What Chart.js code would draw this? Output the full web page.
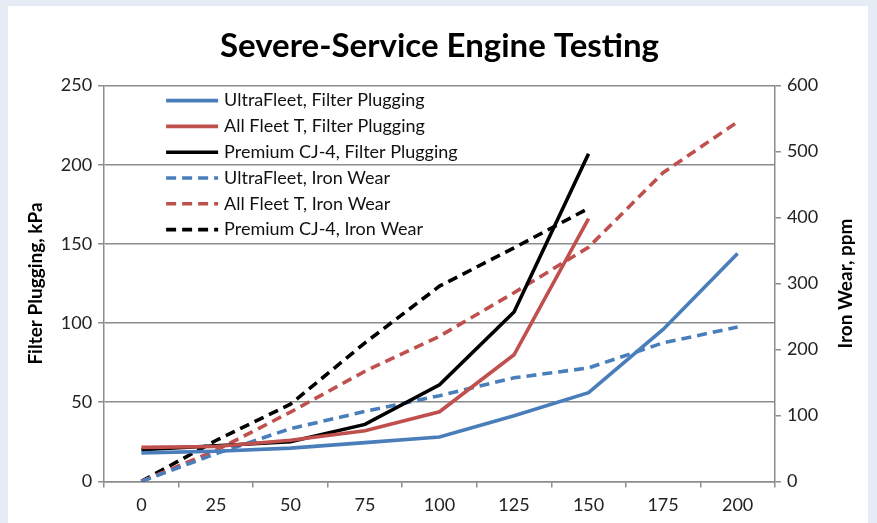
<!DOCTYPE html>
<html>
<head>
<meta charset="utf-8">
<script src="https://cdn.jsdelivr.net/npm/chart.js@4/dist/chart.umd.min.js"></script>
<style>
  html, body { margin: 0; padding: 0; background: #ffffff; }
  #wrap { width: 877px; height: 523px; position: relative; }
  canvas { display: block; }
</style>
</head>
<body>
<div id="wrap"><canvas id="c" width="877" height="523"></canvas></div>
<script>
// Data
const categories = ['0', '25', '50', '75', '100', '125', '150', '175', '200'];
const ultraFleetPlugging = [18, 19, 21, 24.5, 28, 41.5, 56, 96, 144];
const allFleetPlugging   = [21.5, 22, 26, 32, 44, 80, 166];
const premiumPlugging    = [20, 22.5, 25, 36, 61, 107, 207];
const ultraFleetIron     = [0, 42, 80, 106, 130, 157, 172, 210, 234];
const allFleetIron       = [0, 47, 105, 167, 220, 286, 355, 468, 545];
const premiumIron        = [0, 62, 117, 210, 296, 354, 414];
const leftTicks  = [0, 50, 100, 150, 200, 250];
const rightTicks = [0, 100, 200, 300, 400, 500, 600];
const rightTitle = 'Iron Wear, ppm';

const BLUE = '#4A7EBB', RED = '#C0504D', BLACK = '#000000';
const FONT = 'Lato, "Open Sans", sans-serif';

const solid = (label, data, color) => ({
  label, data, borderColor: color, backgroundColor: color, borderWidth: 3.6,
  pointRadius: 0, tension: 0, yAxisID: 'y', fill: false
});
const dashed = (label, data, color) => ({
  label, data, borderColor: color, backgroundColor: color, borderWidth: 3.6,
  borderDash: [10, 6], pointRadius: 0, tension: 0, yAxisID: 'y1', fill: false
});

const frame = {
  id: 'frame',
  beforeDraw(chart) {
    const ctx = chart.ctx;
    ctx.save();
    ctx.fillStyle = '#e6ecf4';
    ctx.fillRect(0, 0, chart.width, chart.height);
    ctx.fillStyle = '#ffffff';
    ctx.fillRect(8, 6, 860, chart.height - 6);
    ctx.restore();
  }
};

const legendInArea = {
  id: 'legendInArea',
  afterDatasetsDraw(chart) {
    const ctx = chart.ctx;
    const ca = chart.chartArea;
    const x0 = ca.left + 62, y0 = ca.top + 15, step = 25.8;
    ctx.save();
    ctx.font = '18px ' + FONT;
    ctx.textBaseline = 'middle';
    chart.data.datasets.forEach((ds, i) => {
      const y = y0 + i * step;
      ctx.beginPath();
      ctx.strokeStyle = ds.borderColor;
      ctx.lineWidth = 3.6;
      ctx.setLineDash(ds.borderDash || []);
      ctx.moveTo(x0, y);
      ctx.lineTo(x0 + 52, y);
      ctx.stroke();
      ctx.setLineDash([]);
      ctx.fillStyle = '#111';
      ctx.fillText(ds.label, x0 + 58, y);
    });
    ctx.restore();
  }
};

const rightTitlePlugin = {
  id: 'rightTitle',
  afterDraw(chart) {
    const s = chart.scales.y1;
    const ctx = chart.ctx;
    ctx.save();
    ctx.translate(s.right - 13, (s.top + s.bottom) / 2);
    ctx.rotate(-Math.PI / 2);
    ctx.font = 'bold 19px ' + FONT;
    ctx.fillStyle = '#000';
    ctx.textAlign = 'center';
    ctx.textBaseline = 'middle';
    ctx.fillText(rightTitle, 0, 0);
    ctx.restore();
  }
};

new Chart(document.getElementById('c'), {
  type: 'line',
  data: {
    labels: categories,
    datasets: [
      solid('UltraFleet, Filter Plugging', ultraFleetPlugging, BLUE),
      solid('All Fleet T, Filter Plugging', allFleetPlugging, RED),
      solid('Premium CJ-4, Filter Plugging', premiumPlugging, BLACK),
      dashed('UltraFleet, Iron Wear', ultraFleetIron, BLUE),
      dashed('All Fleet T, Iron Wear', allFleetIron, RED),
      dashed('Premium CJ-4, Iron Wear', premiumIron, BLACK)
    ]
  },
  options: {
    responsive: false,
    animation: false,
    layout: { padding: { left: 20, right: 18, top: 6, bottom: 0 } },
    plugins: {
      legend: { display: false },
      tooltip: { enabled: false },
      title: {
        display: true,
        text: 'Severe-Service Engine Testing',
        color: '#000',
        font: { family: FONT, size: 33, weight: 'bold' },
        padding: { top: 21, bottom: 19 }
      }
    },
    scales: {
      x: {
        type: 'category',
        offset: true,
        grid: { display: true, offset: true, drawOnChartArea: false, drawTicks: true, tickLength: 6, color: '#8c8c8c', lineWidth: 1.5 },
        border: { display: true, color: '#8c8c8c', width: 1.5 },
        ticks: { color: '#222', font: { family: FONT, size: 18 }, padding: 7 }
      },
      y: {
        position: 'left',
        min: 0, max: 250,
        afterBuildTicks: (s) => { s.ticks = leftTicks.map(v => ({ value: v })); },
        grid: { color: '#8c8c8c', lineWidth: 1.5, drawTicks: true, tickLength: 6 },
        border: { display: true, color: '#8c8c8c', width: 1.5 },
        ticks: { color: '#222', font: { family: FONT, size: 18 }, padding: 6 },
        title: { display: true, text: 'Filter Plugging, kPa', color: '#000', font: { family: FONT, size: 19, weight: 'bold' }, padding: { bottom: 8 } }
      },
      y1: {
        position: 'right',
        min: 0, max: 600,
        afterBuildTicks: (s) => { s.ticks = rightTicks.map(v => ({ value: v })); },
        grid: { drawOnChartArea: false, color: '#8c8c8c', lineWidth: 1.5, drawTicks: true, tickLength: 6 },
        border: { display: true, color: '#8c8c8c', width: 1.5 },
        ticks: { color: '#222', font: { family: FONT, size: 18 }, padding: 6 },
        title: { display: true, text: rightTitle, color: 'rgba(0,0,0,0)', font: { family: FONT, size: 19, weight: 'bold' }, padding: { top: 8 } }
      }
    }
  },
  plugins: [frame, legendInArea, rightTitlePlugin]
});
</script>
</body>
</html>
